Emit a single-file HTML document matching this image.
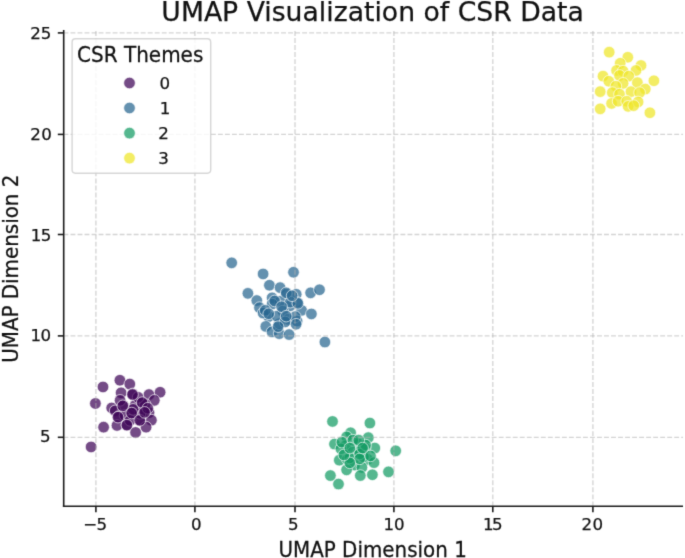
<!DOCTYPE html>
<html><head><meta charset="utf-8"><title>UMAP Visualization of CSR Data</title><style>
html,body{margin:0;padding:0;background:#fff;overflow:hidden;}
svg{display:block;}
text{font-family:"DejaVu Sans","Liberation Sans",sans-serif;fill:#111;stroke:#111;stroke-width:0.25px;}
</style></head><body>
<svg width="685" height="558" viewBox="0 0 685 558">
<defs><filter id="bl" x="0" y="0" width="685" height="558" filterUnits="userSpaceOnUse" color-interpolation-filters="sRGB"><feConvolveMatrix order="3" kernelMatrix="1 6 1 6 36 6 1 6 1" edgeMode="duplicate"/></filter></defs>
<g filter="url(#bl)">
<rect x="0" y="0" width="685" height="558" fill="#fff"/>
<g stroke="#fff" stroke-width="0.94" fill-opacity="0.72" stroke-opacity="0.72">
<circle cx="119.9" cy="380.25" r="5.8" fill="rgb(63,6,87)"/>
<circle cx="129.8" cy="384.05" r="5.8" fill="rgb(63,6,87)"/>
<circle cx="103" cy="386.95" r="5.8" fill="rgb(63,6,87)"/>
<circle cx="121.1" cy="392.85" r="5.8" fill="rgb(63,6,87)"/>
<circle cx="132.7" cy="393.95" r="5.8" fill="rgb(63,6,87)"/>
<circle cx="149" cy="394.55" r="5.8" fill="rgb(63,6,87)"/>
<circle cx="160.1" cy="392.25" r="5.8" fill="rgb(63,6,87)"/>
<circle cx="154.3" cy="400.35" r="5.8" fill="rgb(63,6,87)"/>
<circle cx="142" cy="402.75" r="5.8" fill="rgb(63,6,87)"/>
<circle cx="123.4" cy="405.65" r="5.8" fill="rgb(63,6,87)"/>
<circle cx="111.7" cy="407.95" r="5.8" fill="rgb(63,6,87)"/>
<circle cx="115.2" cy="410.85" r="5.8" fill="rgb(63,6,87)"/>
<circle cx="131.6" cy="413.25" r="5.8" fill="rgb(63,6,87)"/>
<circle cx="144.4" cy="409.75" r="5.8" fill="rgb(63,6,87)"/>
<circle cx="149" cy="412.65" r="5.8" fill="rgb(63,6,87)"/>
<circle cx="118.7" cy="416.75" r="5.8" fill="rgb(63,6,87)"/>
<circle cx="139.7" cy="420.15" r="5.8" fill="rgb(63,6,87)"/>
<circle cx="151.4" cy="420.15" r="5.8" fill="rgb(63,6,87)"/>
<circle cx="117" cy="425.45" r="5.8" fill="rgb(63,6,87)"/>
<circle cx="126.9" cy="424.85" r="5.8" fill="rgb(63,6,87)"/>
<circle cx="146.1" cy="427.15" r="5.8" fill="rgb(63,6,87)"/>
<circle cx="135.6" cy="432.45" r="5.8" fill="rgb(63,6,87)"/>
<circle cx="103.6" cy="427.15" r="5.8" fill="rgb(63,6,87)"/>
<circle cx="95.4" cy="403.45" r="5.8" fill="rgb(63,6,87)"/>
<circle cx="91.1" cy="446.95" r="5.8" fill="rgb(63,6,87)"/>
<circle cx="135.1" cy="405.35" r="5.8" fill="rgb(63,6,87)"/>
<circle cx="125.1" cy="415.35" r="5.8" fill="rgb(63,6,87)"/>
<circle cx="140.1" cy="413.35" r="5.8" fill="rgb(63,6,87)"/>
<circle cx="120.1" cy="400.35" r="5.8" fill="rgb(63,6,87)"/>
<circle cx="145.1" cy="404.35" r="5.8" fill="rgb(63,6,87)"/>
<circle cx="130.1" cy="420.35" r="5.8" fill="rgb(63,6,87)"/>
<circle cx="138.1" cy="397.35" r="5.8" fill="rgb(63,6,87)"/>
<circle cx="133.1" cy="409.35" r="5.8" fill="rgb(63,6,87)"/>
<circle cx="122.8" cy="405.85" r="5.8" fill="rgb(63,6,87)"/>
<circle cx="131.7" cy="413.05" r="5.8" fill="rgb(63,6,87)"/>
<circle cx="139.8" cy="420.35" r="5.8" fill="rgb(63,6,87)"/>
<circle cx="126.9" cy="425.15" r="5.8" fill="rgb(63,6,87)"/>
<circle cx="118" cy="417.15" r="5.8" fill="rgb(63,6,87)"/>
<circle cx="142.2" cy="402.65" r="5.8" fill="rgb(63,6,87)"/>
<circle cx="132.5" cy="394.55" r="5.8" fill="rgb(63,6,87)"/>
<circle cx="147.8" cy="408.25" r="5.8" fill="rgb(63,6,87)"/>
<circle cx="144.6" cy="412.35" r="5.8" fill="rgb(63,6,87)"/>
<circle cx="231.7" cy="262.85" r="5.8" fill="rgb(40,102,144)"/>
<circle cx="263.1" cy="273.95" r="5.8" fill="rgb(40,102,144)"/>
<circle cx="293.5" cy="272.25" r="5.8" fill="rgb(40,102,144)"/>
<circle cx="269.4" cy="285.25" r="5.8" fill="rgb(40,102,144)"/>
<circle cx="280.1" cy="287.65" r="5.8" fill="rgb(40,102,144)"/>
<circle cx="247.9" cy="293.35" r="5.8" fill="rgb(40,102,144)"/>
<circle cx="310.6" cy="292.85" r="5.8" fill="rgb(40,102,144)"/>
<circle cx="319.5" cy="289.75" r="5.8" fill="rgb(40,102,144)"/>
<circle cx="296.2" cy="294.25" r="5.8" fill="rgb(40,102,144)"/>
<circle cx="286.4" cy="294.25" r="5.8" fill="rgb(40,102,144)"/>
<circle cx="256.8" cy="300.55" r="5.8" fill="rgb(40,102,144)"/>
<circle cx="272.1" cy="297.85" r="5.8" fill="rgb(40,102,144)"/>
<circle cx="280.1" cy="301.35" r="5.8" fill="rgb(40,102,144)"/>
<circle cx="272.1" cy="304.05" r="5.8" fill="rgb(40,102,144)"/>
<circle cx="259.5" cy="307.65" r="5.8" fill="rgb(40,102,144)"/>
<circle cx="290" cy="305.85" r="5.8" fill="rgb(40,102,144)"/>
<circle cx="301.6" cy="310.35" r="5.8" fill="rgb(40,102,144)"/>
<circle cx="282.8" cy="311.25" r="5.8" fill="rgb(40,102,144)"/>
<circle cx="311.4" cy="313.95" r="5.8" fill="rgb(40,102,144)"/>
<circle cx="268.5" cy="316.65" r="5.8" fill="rgb(40,102,144)"/>
<circle cx="288.2" cy="319.35" r="5.8" fill="rgb(40,102,144)"/>
<circle cx="297.1" cy="321.05" r="5.8" fill="rgb(40,102,144)"/>
<circle cx="265.8" cy="326.45" r="5.8" fill="rgb(40,102,144)"/>
<circle cx="272" cy="331.85" r="5.8" fill="rgb(40,102,144)"/>
<circle cx="279.2" cy="333.65" r="5.8" fill="rgb(40,102,144)"/>
<circle cx="289.1" cy="334.55" r="5.8" fill="rgb(40,102,144)"/>
<circle cx="324.9" cy="342.05" r="5.8" fill="rgb(40,102,144)"/>
<circle cx="295.3" cy="316.65" r="5.8" fill="rgb(40,102,144)"/>
<circle cx="263.1" cy="313.05" r="5.8" fill="rgb(40,102,144)"/>
<circle cx="279.2" cy="323.75" r="5.8" fill="rgb(40,102,144)"/>
<circle cx="297.1" cy="302.35" r="5.8" fill="rgb(40,102,144)"/>
<circle cx="290.3" cy="302.15" r="5.8" fill="rgb(40,102,144)"/>
<circle cx="297.9" cy="303.35" r="5.8" fill="rgb(40,102,144)"/>
<circle cx="265.2" cy="310.35" r="5.8" fill="rgb(40,102,144)"/>
<circle cx="276.9" cy="316.15" r="5.8" fill="rgb(40,102,144)"/>
<circle cx="285.1" cy="321.95" r="5.8" fill="rgb(40,102,144)"/>
<circle cx="296.1" cy="324.25" r="5.8" fill="rgb(40,102,144)"/>
<circle cx="286.2" cy="292.85" r="5.8" fill="rgb(40,102,144)"/>
<circle cx="292.1" cy="295.75" r="5.8" fill="rgb(40,102,144)"/>
<circle cx="274.6" cy="300.95" r="5.8" fill="rgb(40,102,144)"/>
<circle cx="281.6" cy="306.75" r="5.8" fill="rgb(40,102,144)"/>
<circle cx="268.7" cy="313.75" r="5.8" fill="rgb(40,102,144)"/>
<circle cx="286.2" cy="316.15" r="5.8" fill="rgb(40,102,144)"/>
<circle cx="278.1" cy="326.65" r="5.8" fill="rgb(40,102,144)"/>
<circle cx="332.5" cy="421.45" r="5.8" fill="rgb(19,155,100)"/>
<circle cx="369.9" cy="423.05" r="5.8" fill="rgb(19,155,100)"/>
<circle cx="350.6" cy="432.75" r="5.8" fill="rgb(19,155,100)"/>
<circle cx="346.6" cy="436.85" r="5.8" fill="rgb(19,155,100)"/>
<circle cx="368.3" cy="437.65" r="5.8" fill="rgb(19,155,100)"/>
<circle cx="334.5" cy="444.05" r="5.8" fill="rgb(19,155,100)"/>
<circle cx="358.6" cy="444.05" r="5.8" fill="rgb(19,155,100)"/>
<circle cx="345.7" cy="445.65" r="5.8" fill="rgb(19,155,100)"/>
<circle cx="374.8" cy="448.05" r="5.8" fill="rgb(19,155,100)"/>
<circle cx="395.7" cy="450.85" r="5.8" fill="rgb(19,155,100)"/>
<circle cx="353" cy="452.15" r="5.8" fill="rgb(19,155,100)"/>
<circle cx="365.1" cy="448.05" r="5.8" fill="rgb(19,155,100)"/>
<circle cx="339.3" cy="460.15" r="5.8" fill="rgb(19,155,100)"/>
<circle cx="347.4" cy="459.35" r="5.8" fill="rgb(19,155,100)"/>
<circle cx="367.5" cy="459.35" r="5.8" fill="rgb(19,155,100)"/>
<circle cx="374" cy="462.65" r="5.8" fill="rgb(19,155,100)"/>
<circle cx="354.6" cy="465.05" r="5.8" fill="rgb(19,155,100)"/>
<circle cx="361.9" cy="467.45" r="5.8" fill="rgb(19,155,100)"/>
<circle cx="346.6" cy="469.85" r="5.8" fill="rgb(19,155,100)"/>
<circle cx="360.3" cy="475.55" r="5.8" fill="rgb(19,155,100)"/>
<circle cx="372.4" cy="474.75" r="5.8" fill="rgb(19,155,100)"/>
<circle cx="388.5" cy="471.85" r="5.8" fill="rgb(19,155,100)"/>
<circle cx="330.4" cy="475.55" r="5.8" fill="rgb(19,155,100)"/>
<circle cx="338.5" cy="484.05" r="5.8" fill="rgb(19,155,100)"/>
<circle cx="358.6" cy="452.15" r="5.8" fill="rgb(19,155,100)"/>
<circle cx="340.9" cy="448.85" r="5.8" fill="rgb(19,155,100)"/>
<circle cx="363.5" cy="456.95" r="5.8" fill="rgb(19,155,100)"/>
<circle cx="349.8" cy="457.85" r="5.8" fill="rgb(19,155,100)"/>
<circle cx="359.7" cy="453.95" r="5.8" fill="rgb(19,155,100)"/>
<circle cx="365.6" cy="445.05" r="5.8" fill="rgb(19,155,100)"/>
<circle cx="341.9" cy="442.15" r="5.8" fill="rgb(19,155,100)"/>
<circle cx="352.8" cy="440.15" r="5.8" fill="rgb(19,155,100)"/>
<circle cx="358.7" cy="440.15" r="5.8" fill="rgb(19,155,100)"/>
<circle cx="359.7" cy="458.85" r="5.8" fill="rgb(19,155,100)"/>
<circle cx="349.8" cy="462.85" r="5.8" fill="rgb(19,155,100)"/>
<circle cx="370.5" cy="455.95" r="5.8" fill="rgb(19,155,100)"/>
<circle cx="362.6" cy="448.05" r="5.8" fill="rgb(19,155,100)"/>
<circle cx="343.9" cy="454.95" r="5.8" fill="rgb(19,155,100)"/>
<circle cx="349.8" cy="448.05" r="5.8" fill="rgb(19,155,100)"/>
<circle cx="609.2" cy="52.15" r="5.8" fill="rgb(238,230,40)"/>
<circle cx="627.8" cy="57.25" r="5.8" fill="rgb(238,230,40)"/>
<circle cx="620.2" cy="63.25" r="5.8" fill="rgb(238,230,40)"/>
<circle cx="641" cy="65.45" r="5.8" fill="rgb(238,230,40)"/>
<circle cx="616.6" cy="70.45" r="5.8" fill="rgb(238,230,40)"/>
<circle cx="623.1" cy="71.15" r="5.8" fill="rgb(238,230,40)"/>
<circle cx="636" cy="70.45" r="5.8" fill="rgb(238,230,40)"/>
<circle cx="603" cy="76.15" r="5.8" fill="rgb(238,230,40)"/>
<circle cx="619.5" cy="75.45" r="5.8" fill="rgb(238,230,40)"/>
<circle cx="628.8" cy="76.15" r="5.8" fill="rgb(238,230,40)"/>
<circle cx="653.9" cy="80.75" r="5.8" fill="rgb(238,230,40)"/>
<circle cx="608.8" cy="81.25" r="5.8" fill="rgb(238,230,40)"/>
<circle cx="623.1" cy="83.35" r="5.8" fill="rgb(238,230,40)"/>
<circle cx="637.4" cy="82.65" r="5.8" fill="rgb(238,230,40)"/>
<circle cx="645.3" cy="89.05" r="5.8" fill="rgb(238,230,40)"/>
<circle cx="615.9" cy="86.25" r="5.8" fill="rgb(238,230,40)"/>
<circle cx="600.2" cy="91.65" r="5.8" fill="rgb(238,230,40)"/>
<circle cx="612.3" cy="92.65" r="5.8" fill="rgb(238,230,40)"/>
<circle cx="619.5" cy="94.15" r="5.8" fill="rgb(238,230,40)"/>
<circle cx="631" cy="91.65" r="5.8" fill="rgb(238,230,40)"/>
<circle cx="639.6" cy="92.65" r="5.8" fill="rgb(238,230,40)"/>
<circle cx="611.6" cy="103.45" r="5.8" fill="rgb(238,230,40)"/>
<circle cx="618.1" cy="101.25" r="5.8" fill="rgb(238,230,40)"/>
<circle cx="626.7" cy="101.25" r="5.8" fill="rgb(238,230,40)"/>
<circle cx="638.1" cy="101.95" r="5.8" fill="rgb(238,230,40)"/>
<circle cx="628.1" cy="106.35" r="5.8" fill="rgb(238,230,40)"/>
<circle cx="600.2" cy="108.85" r="5.8" fill="rgb(238,230,40)"/>
<circle cx="649.9" cy="112.75" r="5.8" fill="rgb(238,230,40)"/>
<circle cx="633.7" cy="105.65" r="5.8" fill="rgb(238,230,40)"/>
</g>
<g stroke="#b0b0b0" stroke-opacity="0.55" stroke-width="1.33" stroke-dasharray="4.9 2.12" fill="none">
<line x1="95.9" y1="506.3" x2="95.9" y2="30" stroke-dashoffset="0"/>
<line x1="194.9" y1="506.3" x2="194.9" y2="30" stroke-dashoffset="0"/>
<line x1="295" y1="506.3" x2="295" y2="30" stroke-dashoffset="0"/>
<line x1="393.9" y1="506.3" x2="393.9" y2="30" stroke-dashoffset="0"/>
<line x1="492.8" y1="506.3" x2="492.8" y2="30" stroke-dashoffset="0"/>
<line x1="592.9" y1="506.3" x2="592.9" y2="30" stroke-dashoffset="0"/>
<line x1="63.7" y1="32.9" x2="683" y2="32.9" stroke-dashoffset="0.22"/>
<line x1="63.7" y1="134.4" x2="683" y2="134.4" stroke-dashoffset="0.22"/>
<line x1="63.7" y1="234.5" x2="683" y2="234.5" stroke-dashoffset="0.22"/>
<line x1="63.7" y1="335.9" x2="683" y2="335.9" stroke-dashoffset="0.22"/>
<line x1="63.7" y1="437.3" x2="683" y2="437.3" stroke-dashoffset="0.22"/>
</g>
<g stroke="#1a1a1a" stroke-width="1.6" fill="none">
<line x1="63.7" y1="30" x2="63.7" y2="507.1"/>
<line x1="62.9" y1="506.3" x2="683" y2="506.3"/>
<line x1="95.9" y1="506.3" x2="95.9" y2="512.2"/>
<line x1="194.9" y1="506.3" x2="194.9" y2="512.2"/>
<line x1="295" y1="506.3" x2="295" y2="512.2"/>
<line x1="393.9" y1="506.3" x2="393.9" y2="512.2"/>
<line x1="492.8" y1="506.3" x2="492.8" y2="512.2"/>
<line x1="592.9" y1="506.3" x2="592.9" y2="512.2"/>
<line x1="63.7" y1="32.9" x2="57.8" y2="32.9"/>
<line x1="63.7" y1="134.4" x2="57.8" y2="134.4"/>
<line x1="63.7" y1="234.5" x2="57.8" y2="234.5"/>
<line x1="63.7" y1="335.9" x2="57.8" y2="335.9"/>
<line x1="63.7" y1="437.3" x2="57.8" y2="437.3"/>
</g>
<g font-size="16.67px" style="stroke:none">
<text x="94.8" y="529.8" text-anchor="middle" letter-spacing="-0.7">−5</text>
<text x="196.2" y="529.8" text-anchor="middle">0</text>
<text x="293.4" y="529.8" text-anchor="middle">5</text>
<text x="394.1" y="529.8" text-anchor="middle">10</text>
<text x="492.1" y="529.8" text-anchor="middle" letter-spacing="-1.4">15</text>
<text x="592.6" y="529.8" text-anchor="middle" letter-spacing="0.55">20</text>
<text x="51.4" y="39.3" text-anchor="end">25</text>
<text x="52.1" y="139.9" text-anchor="end" letter-spacing="0.35">20</text>
<text x="50.55" y="240.7" text-anchor="end" letter-spacing="-0.7">15</text>
<text x="50.4" y="341.4" text-anchor="end" letter-spacing="-0.7">10</text>
<text x="50.65" y="442.4" text-anchor="end">5</text>
</g>
<text transform="translate(372.6,20.55)" font-size="26.67px" text-anchor="middle">UMAP Visualization of CSR Data</text>
<text transform="translate(372.6,556.7) scale(0.995,1.03)" font-size="20px" text-anchor="middle">UMAP Dimension 1</text>
<text transform="translate(17.9,268.7) rotate(-90) scale(0.995,1.05)" font-size="20px" text-anchor="middle">UMAP Dimension 2</text>
<rect x="72.1" y="38.8" width="138.6" height="134.4" rx="3.33" ry="3.33" fill="#fff" fill-opacity="0.8" stroke="#ccc" stroke-opacity="0.8" stroke-width="1.4"/>
<text transform="translate(140.2,61.9) scale(1,1.06)" font-size="20px" text-anchor="middle">CSR Themes</text>
<g stroke="#fff" stroke-width="0.94" fill-opacity="0.72" stroke-opacity="0.72">
<circle cx="129.5" cy="83" r="5.8" fill="rgb(63,6,87)"/>
<circle cx="129.5" cy="108" r="5.8" fill="rgb(40,102,144)"/>
<circle cx="129.5" cy="133.1" r="5.8" fill="rgb(19,155,100)"/>
<circle cx="129.5" cy="158.1" r="5.8" fill="rgb(238,230,40)"/>
</g>
<g font-size="16.67px" style="stroke:none">
<text x="159.6" y="88.7">0</text>
<text x="159.8" y="113.9">1</text>
<text x="158.2" y="138.9">2</text>
<text x="158.3" y="163.7">3</text>
</g>
</g>
</svg>
</body></html>
